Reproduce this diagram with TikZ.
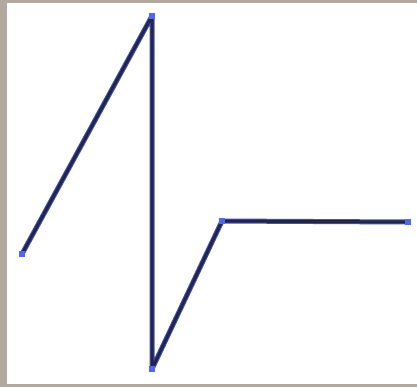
\documentclass[tikz,border=0pt]{standalone}
\usetikzlibrary{backgrounds}
\definecolor{framegray}{RGB}{178,168,158}
\definecolor{linenavy}{RGB}{34,38,78}
\definecolor{lineblue}{RGB}{66,82,180}
\definecolor{markblue}{RGB}{80,105,235}
\tikzset{
  vmark/.style={rectangle, fill=markblue, inner sep=0pt, minimum size=3.4pt},
  polyline/.style={draw=linenavy, line width=1.5pt, line join=bevel,
    preaction={draw=lineblue, line width=2.5pt, line join=bevel}}
}

\begin{document}
\begin{tikzpicture}[x=0.5pt, y=-0.5pt]
    % eckpunkte
    \node[vmark] (p1) at (22,254) {};
    \node[vmark] (p2) at (152,16) {};
    \node[vmark] (p3) at (152,369) {};
    \node[vmark] (p4) at (222,221) {};
    \node[vmark] (p5) at (408,222) {};

    \begin{scope}[on background layer]
        % rahmen
        \fill[framegray] (0,0) rectangle (417,387);
        \fill[white] (7,3) rectangle (417,384);
        % linienzug
        \draw[polyline] (p1.center) -- (p2.center) -- (p3.center) -- (p4.center) -- (p5.center);
    \end{scope}
\end{tikzpicture}
\end{document}
